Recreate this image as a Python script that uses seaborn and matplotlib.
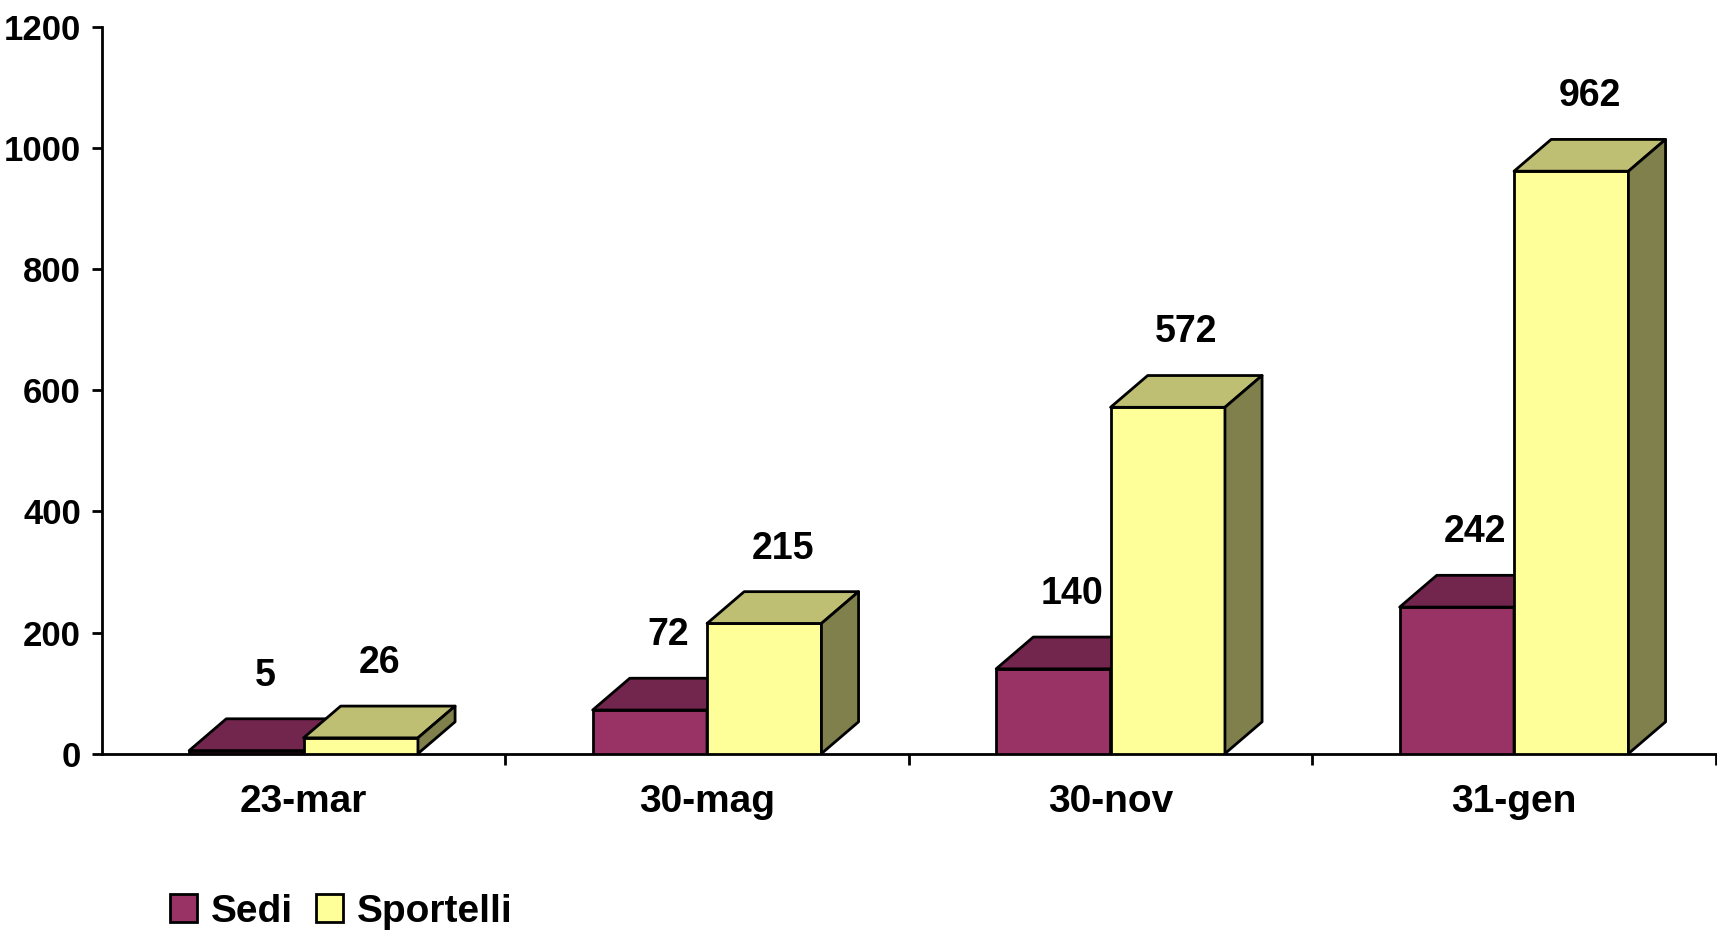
import matplotlib
matplotlib.use("Agg")
import numpy as np
import pandas as pd
import matplotlib.pyplot as plt
import seaborn as sns
from matplotlib.patches import Polygon, Patch

# data
dates = ["23-mar", "30-mag", "30-nov", "31-gen"]
sedi = [5, 72, 140, 242]
sportelli = [26, 215, 572, 962]
series = ["Sedi", "Sportelli"]

front_colors = {"Sedi": "#993366", "Sportelli": "#FFFF99"}
top_colors = {"Sedi": "#73264D", "Sportelli": "#BFBF73"}
side_colors = {"Sedi": "#4D1A33", "Sportelli": "#80804D"}

df = pd.DataFrame({
    "data": dates * 2,
    "valore": sedi + sportelli,
    "serie": ["Sedi"] * len(sedi) + ["Sportelli"] * len(sportelli),
})

sns.set_style("white")
plt.rcParams["font.family"] = ["Liberation Sans", "DejaVu Sans"]
plt.rcParams["font.weight"] = "bold"
plt.rcParams["text.color"] = "black"

fig = plt.figure(figsize=(17.17, 9.35), dpi=100)
ax = fig.add_axes([0.0593, 0.194, 0.94, 0.777])

lw = 2.0
sns.barplot(data=df, x="data", y="valore", hue="serie", hue_order=series,
            palette=front_colors, width=0.567, gap=0, saturation=1,
            edgecolor="black", linewidth=lw, ax=ax)
ax.get_legend().remove()

# fake 3D depth (in data units)
dx, dy = 0.092, 52.5
for k, (name, cont) in enumerate(zip(series, ax.containers)):
    z = 2 + k
    for rect in cont:
        x0, w, h = rect.get_x(), rect.get_width(), rect.get_height()
        rect.set_zorder(z)
        top = [(x0, h), (x0 + dx, h + dy), (x0 + w + dx, h + dy), (x0 + w, h)]
        side = [(x0 + w, 0), (x0 + w, h), (x0 + w + dx, h + dy), (x0 + w + dx, dy)]
        for pts, col in ((top, top_colors[name]), (side, side_colors[name])):
            ax.add_patch(Polygon(pts, closed=True, facecolor=col, edgecolor="black",
                                 linewidth=lw, joinstyle="round", zorder=z + 0.1))
        ax.annotate(f"{h:.0f}", (x0 + w / 2 + dx / 2, h + dy), xytext=(0, 31),
                    textcoords="offset points", ha="center", va="center",
                    fontsize=27, fontweight="bold", color="black", zorder=10,
                    annotation_clip=False)

ax.set_xlim(-0.5, 3.5)
ax.set_ylim(0, 1200)
ax.set_yticks(np.arange(0, 1201, 200))
ax.set_xticks([0.5, 1.5, 2.5, 3.5], minor=True)
ax.set_xlabel("")
ax.set_ylabel("")

sns.despine(ax=ax)
for s in ("left", "bottom"):
    ax.spines[s].set_color("black")
    ax.spines[s].set_linewidth(lw)
    ax.spines[s].set_zorder(1)

ax.tick_params(axis="y", left=True, length=7, width=lw, pad=8, labelsize=25, colors="black")
ax.tick_params(axis="x", which="major", bottom=False, length=0, pad=22, labelsize=28, colors="black")
ax.tick_params(axis="x", which="minor", bottom=True, length=8, width=lw, colors="black")
for lab in ax.get_xticklabels() + ax.get_yticklabels():
    lab.set_fontweight("bold")

handles = [Patch(facecolor=front_colors[s], edgecolor="black", linewidth=lw) for s in series]
fig.legend(handles, series, loc="center left", bbox_to_anchor=(0.099, 0.025),
           ncol=2, frameon=False, handlelength=0.7, handleheight=0.7,
           handletextpad=0.35, columnspacing=0.6, borderaxespad=0, borderpad=0,
           prop={"size": 28, "weight": "bold"})

fig.savefig("out.png", dpi=100)
